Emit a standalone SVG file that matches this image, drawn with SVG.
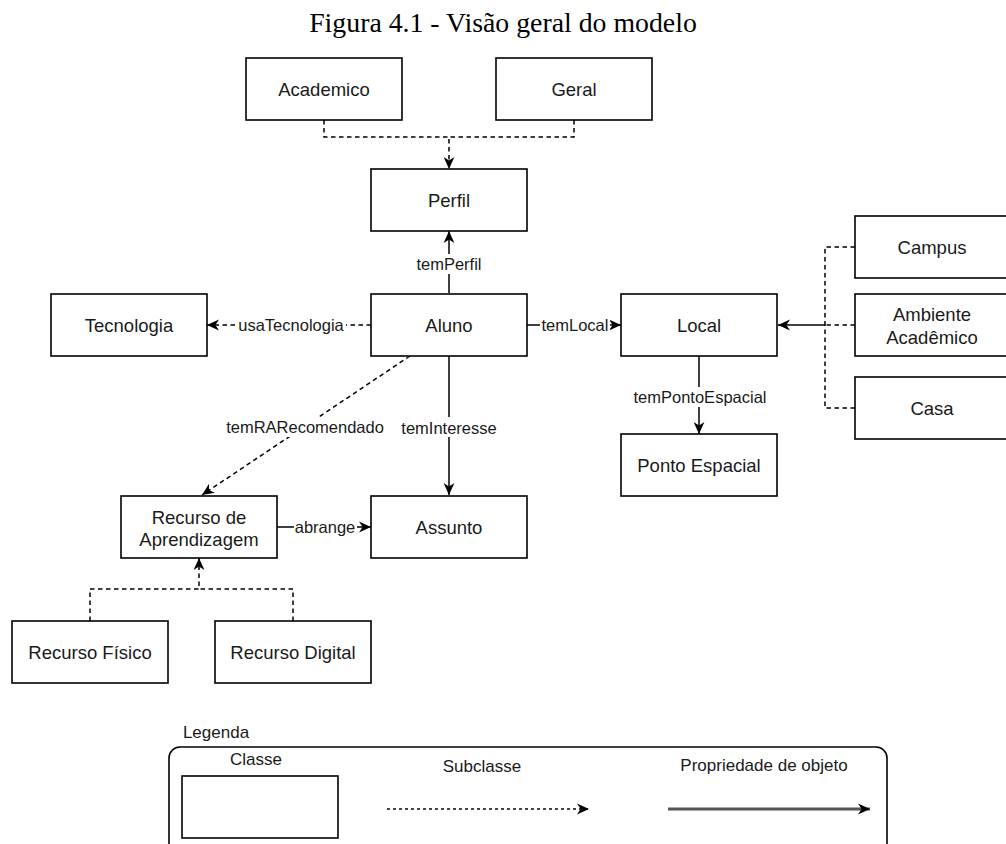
<svg xmlns="http://www.w3.org/2000/svg" width="1006" height="844" viewBox="0 0 1006 844">
<defs>
<marker id="arr" viewBox="0 0 10 10" refX="10" refY="5" markerWidth="12" markerHeight="12" markerUnits="userSpaceOnUse" orient="auto">
<path d="M0,0.5 L10,5 L0,9.5 L3,5 Z" fill="#000"/>
</marker>
<style>
.box{fill:#fff;stroke:#000;stroke-width:1.6}
.lbl{font-family:"Liberation Sans",Arial,Helvetica,sans-serif;font-size:18.5px;fill:#1a1a1a;text-anchor:middle;dominant-baseline:central}
.elbl{font-family:"Liberation Sans",Arial,Helvetica,sans-serif;font-size:16.5px;fill:#1a1a1a;text-anchor:middle;dominant-baseline:central}
.leg{font-family:"Liberation Sans",Arial,Helvetica,sans-serif;font-size:17px;fill:#1a1a1a;text-anchor:middle;dominant-baseline:central}
.solid{fill:none;stroke:#000;stroke-width:1.5}
.dash{fill:none;stroke:#000;stroke-width:1.5;stroke-dasharray:4.5 3.5}
.bg{fill:#fff}
</style>
</defs>
<rect width="1006" height="844" fill="#fff"/>
<text x="503" y="32" font-family="'Liberation Serif','Times New Roman',serif" font-size="27.8" text-anchor="middle" fill="#000">Figura 4.1 - Visão geral do modelo</text>

<g id="connectors">
<path class="dash" d="M324,120 V137 H449 V169" marker-end="url(#arr)"/>
<path class="dash" d="M574,120 V137 H449"/>
<path class="solid" d="M449,293 V231" marker-end="url(#arr)"/>
<path class="dash" d="M371,325 H207" marker-end="url(#arr)"/>
<path class="solid" d="M527,325 H621" marker-end="url(#arr)"/>
<path class="solid" d="M699,356 V434" marker-end="url(#arr)"/>
<path class="dash" d="M410,356 L202,495" marker-end="url(#arr)"/>
<path class="solid" d="M449,356 V495" marker-end="url(#arr)"/>
<path class="solid" d="M277,527 H371" marker-end="url(#arr)"/>
<path class="dash" d="M90,621 V589 H199 V558" marker-end="url(#arr)"/>
<path class="dash" d="M293,621 V589 H199"/>
<path class="dash" d="M855,247 H825 V325"/>
<path class="dash" d="M855,408 H825 V325"/>
<path class="dash" d="M855,325 H825"/>
<path class="solid" d="M825,325 H778" marker-end="url(#arr)"/>
<rect class="bg" x="416" y="254" width="66" height="20"/>
<text class="elbl" x="449" y="264">temPerfil</text>
<rect class="bg" x="236" y="315" width="110" height="20"/>
<text class="elbl" x="291" y="325">usaTecnologia</text>
<rect class="bg" x="540" y="315" width="70" height="20"/>
<text class="elbl" x="575" y="325">temLocal</text>
<rect class="bg" x="630" y="387" width="140" height="20"/>
<text class="elbl" x="700" y="397">temPontoEspacial</text>
<rect class="bg" x="222" y="417" width="166" height="20"/>
<text class="elbl" x="305" y="427">temRARecomendado</text>
<rect class="bg" x="402" y="417" width="95" height="20"/>
<text class="elbl" x="449" y="428">temInteresse</text>
<rect class="bg" x="294" y="517" width="63" height="20"/>
<text class="elbl" x="325" y="527">abrange</text>
</g>

<g id="academico"><rect class="box" x="246" y="58" width="156" height="62"/><text class="lbl" x="324" y="89">Academico</text></g>
<g id="geral"><rect class="box" x="496" y="58" width="156" height="62"/><text class="lbl" x="574" y="89">Geral</text></g>
<g id="perfil"><rect class="box" x="371" y="169" width="156" height="62"/><text class="lbl" x="449" y="200">Perfil</text></g>
<g id="tecnologia"><rect class="box" x="51" y="294" width="156" height="62"/><text class="lbl" x="129" y="325">Tecnologia</text></g>
<g id="aluno"><rect class="box" x="371" y="294" width="156" height="62"/><text class="lbl" x="449" y="325">Aluno</text></g>
<g id="local"><rect class="box" x="621" y="294" width="156" height="62"/><text class="lbl" x="699" y="325">Local</text></g>
<g id="campus"><rect class="box" x="855" y="216" width="156" height="62"/><text class="lbl" x="932" y="247">Campus</text></g>
<g id="ambiente"><rect class="box" x="855" y="294" width="156" height="62"/><text class="lbl" x="932" y="314">Ambiente</text><text class="lbl" x="932" y="337">Acadêmico</text></g>
<g id="casa"><rect class="box" x="855" y="377" width="156" height="62"/><text class="lbl" x="932" y="408">Casa</text></g>
<g id="ponto"><rect class="box" x="621" y="434" width="156" height="62"/><text class="lbl" x="699" y="465">Ponto Espacial</text></g>
<g id="recurso"><rect class="box" x="121" y="496" width="156" height="62"/><text class="lbl" x="199" y="517">Recurso de</text><text class="lbl" x="199" y="539">Aprendizagem</text></g>
<g id="assunto"><rect class="box" x="371" y="496" width="156" height="62"/><text class="lbl" x="449" y="527">Assunto</text></g>
<g id="fisico"><rect class="box" x="12" y="621" width="156" height="62"/><text class="lbl" x="90" y="652">Recurso Físico</text></g>
<g id="digital"><rect class="box" x="215" y="621" width="156" height="62"/><text class="lbl" x="293" y="652">Recurso Digital</text></g>

<g id="legenda">
<text class="leg" x="216" y="732">Legenda</text>
<rect x="169" y="747" width="718" height="120" rx="11" ry="11" fill="none" stroke="#000" stroke-width="1.6"/>
<text class="leg" x="256" y="759">Classe</text>
<rect class="box" x="182" y="776" width="156" height="62"/>
<text class="leg" x="482" y="766">Subclasse</text>
<line x1="387" y1="809" x2="589" y2="809" stroke="#444" stroke-width="2" stroke-dasharray="3 3" marker-end="url(#arr)"/>
<text class="leg" x="764" y="765">Propriedade de objeto</text>
<line x1="668" y1="809" x2="870" y2="809" stroke="#555" stroke-width="2.8" marker-end="url(#arr)"/>
</g>
</svg>
